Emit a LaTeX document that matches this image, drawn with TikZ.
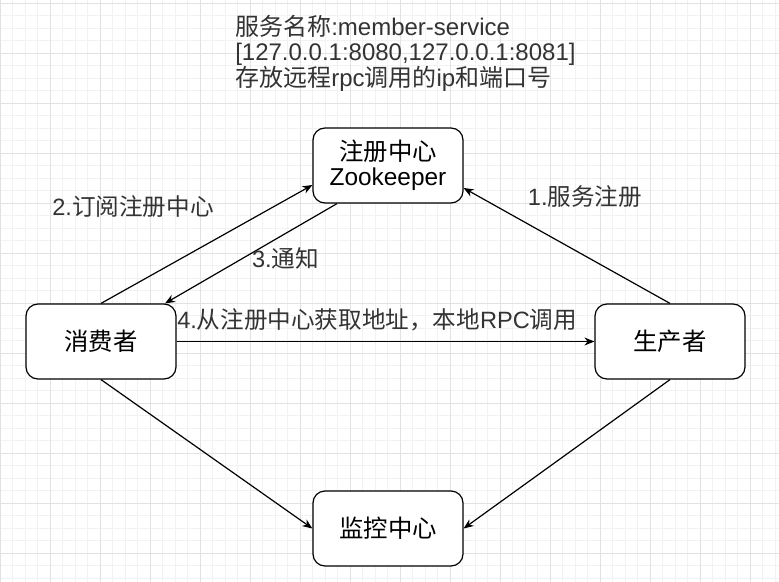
\documentclass[tikz,border=0pt]{standalone}
\usepackage{fontspec}
\setmainfont{Liberation Sans}
\newfontfamily\cjk{Noto Sans CJK SC}
\usetikzlibrary{arrows.meta}
\usetikzlibrary{calc}
\definecolor{gridmajor}{HTML}{E2E2E2}
\definecolor{gridminor}{HTML}{F2F2F2}
\definecolor{labelgray}{HTML}{333333}

\begin{document}
\begin{tikzpicture}[x=0.75pt, y=-0.75pt, >={Stealth[width=6pt,length=7.5pt]},
        box/.style={draw, line width=0.9pt, rounded corners=9pt, fill=white,
            minimum width=112.5pt, minimum height=56.25pt, align=center,
            font=\fontsize{18.3}{18.75}\selectfont},
        lab/.style={text=labelgray, inner sep=0pt, font=\fontsize{17.7}{18.4}\selectfont},
        line/.style={line width=0.9pt}]
        % page and grid
        \useasboundingbox (0,0) rectangle (779,582);
        \fill[white] (0,0) rectangle (779,582);
        \foreach \x in {12.5,25,...,779} \draw[gridminor, line width=0.6pt] (\x,0) -- (\x,582);
        \foreach \y in {3,15.5,...,582} \draw[gridminor, line width=0.6pt] (0,\y) -- (779,\y);
        \foreach \x in {0,50,...,750} \draw[gridmajor, line width=0.75pt] (\x,0) -- (\x,582);
        \foreach \y in {3,53,...,553} \draw[gridmajor, line width=0.75pt] (0,\y) -- (779,\y);
        % note on top
        \node[lab, anchor=west, align=left, font=\fontsize{18}{18.4}\selectfont] (note) at (235,53.5)
            {{\cjk 服务名称}:member-service\\{[}127.0.0.1:8080,127.0.0.1:8081{]}\\{\cjk 存放远程}rpc{\cjk 调用的}ip{\cjk 和端口号}};
        % boxes
        \node[box] (zk) at (388,165.5) {{\cjk 注册中心}\\Zookeeper};
        \node[box] (cons) at (101,341.5) {\cjk 消费者};
        \node[box] (prod) at (670,341.5) {\cjk 生产者};
        \node[box] (mon) at (388,528.5) {\cjk 监控中心};
        % connect
        \draw[line,->] (cons.north) -- ($(zk.west)+(0,19.5)$);
        \draw[line,->] ($(zk.south)+(-51,0)$) -- ($(cons.north)+(64,0)$);
        \draw[line,->] (prod.north) -- ($(zk.east)+(0,22.5)$);
        \draw[line,->] (cons.east) -- (prod.west);
        \draw[line,->] (cons.south) -- (mon.west);
        \draw[line,->] (prod.south) -- (mon.east);
        % labels
        \node[lab] (lsub) at (133,207) {2.{\cjk 订阅注册中心}};
        \node[lab] (lnote) at (285.5,258) {3.{\cjk 通知}};
        \node[lab] (lreg) at (585,197) {1.{\cjk 服务注册}};
        \node[lab, anchor=west] (lcall) at (177,320) {4.{\cjk 从注册中心获取地址，本地}RPC{\cjk 调用}};
    \end{tikzpicture}
\end{document}
